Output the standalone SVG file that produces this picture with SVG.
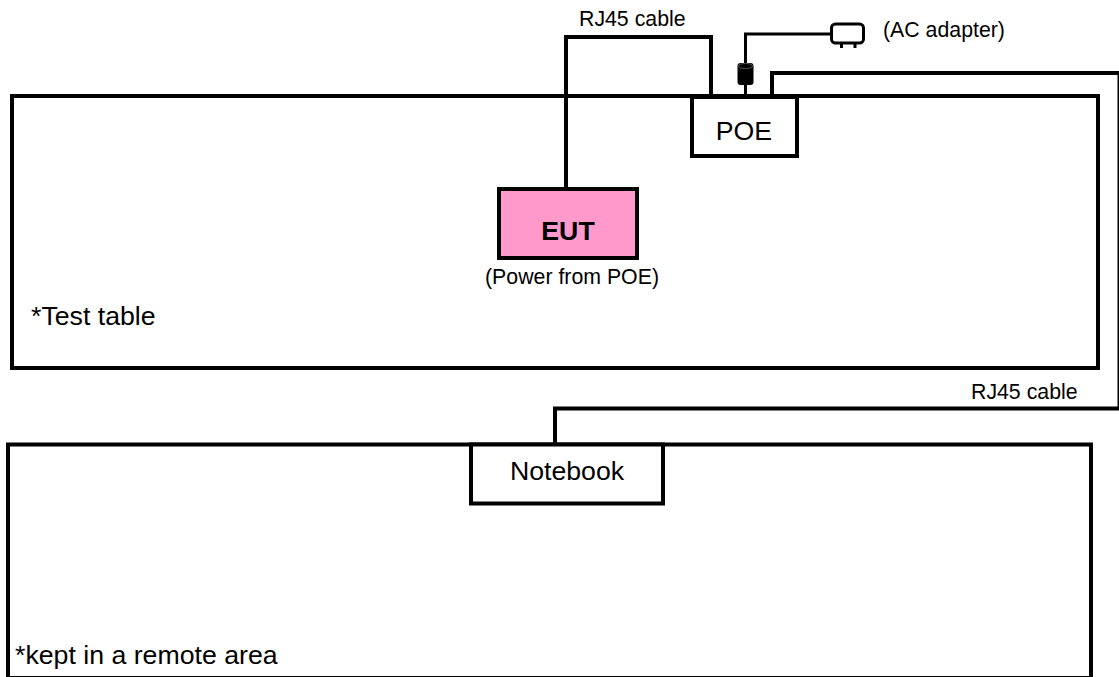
<svg xmlns="http://www.w3.org/2000/svg" width="1119" height="677" viewBox="0 0 1119 677">
<style>
.box{fill:#fff;stroke:#000;stroke-width:4}
.wire{fill:none;stroke:#000;stroke-width:4;stroke-linejoin:miter}
.thin{stroke-width:3}
text{font-family:"Liberation Sans",Arial,sans-serif;fill:#000}
.s{font-size:21.300px}.m{font-size:26.700px}
</style>
<rect width="1119" height="677" fill="#fff"/>
<g id="test-table"><rect class="box" x="12" y="96" width="1086" height="272"/><text class="m" x="31" y="325">*Test table</text></g>
<g id="remote-area"><rect class="box" x="8" y="444.500" width="1083" height="233.500"/><text class="m" x="15" y="664">*kept in a remote area</text></g>
<g id="connectors">
<path class="wire" d="M566 188V37H711V96"/>
<path class="wire thin" d="M745.500 96V34H831"/>
<path class="wire" d="M772 96V73H1119.500V408.500H555V444"/>
</g>
<g id="poe"><rect class="box" x="692" y="97" width="105" height="59"/><text class="m" text-anchor="middle" x="744" y="140">POE</text></g>
<g id="eut"><rect x="499" y="189" width="138" height="69" fill="#ff99cc" stroke="#000" stroke-width="4"/><text class="m" font-weight="bold" text-anchor="middle" x="568" y="240">EUT</text><text class="s" text-anchor="middle" x="572" y="284">(Power from POE)</text></g>
<g id="notebook"><rect class="box" x="471" y="444.500" width="192" height="59"/><text class="m" text-anchor="middle" x="567" y="480">Notebook</text></g>
<g id="ferrite"><rect x="737.500" y="63" width="16" height="22" rx="3"/><ellipse cx="745.500" cy="66" rx="7" ry="2.500" fill="#000" stroke="#555" stroke-width="1"/></g>
<g id="ac-adapter"><rect x="831.500" y="24" width="32" height="19" rx="4" fill="#fff" stroke="#000" stroke-width="3"/><path d="M841.500 43v5M855 43v5" stroke="#000" stroke-width="3"/><text class="s" x="883" y="37">(AC adapter)</text></g>
<g id="labels"><text class="s" x="579" y="26">RJ45 cable</text><text class="s" x="971" y="399">RJ45 cable</text></g>
</svg>
